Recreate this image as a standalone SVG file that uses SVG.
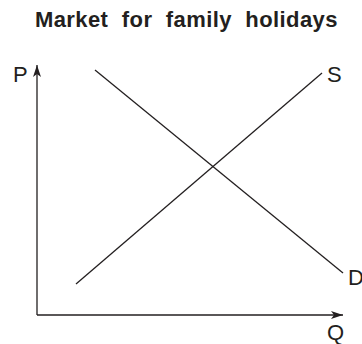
<svg xmlns="http://www.w3.org/2000/svg" width="362" height="344" viewBox="0 0 362 344">
<style>
.t{font-family:"Liberation Sans",Arial,sans-serif;fill:#231f20}
.title{font-size:22px;font-weight:bold;letter-spacing:0.4px;word-spacing:7px}
.lbl{font-size:22px}
.ln{stroke:#231f20;stroke-width:1.3;fill:none}
</style>
<defs>
<marker id="ah" viewBox="0 0 12 10" refX="12" refY="5" markerWidth="12" markerHeight="10" markerUnits="userSpaceOnUse" orient="auto">
<path d="M0,1 L12,5 L0,9 L3,5 Z" fill="#231f20"/>
</marker>
</defs>
<rect width="362" height="344" fill="#fff"/>
<text class="t title" x="35" y="27">Market for family holidays</text>
<g id="axes">
<path id="y-axis" class="ln" d="M37,315 L37,65" marker-end="url(#ah)"/>
<path id="x-axis" class="ln" d="M37,315 L343,315" marker-end="url(#ah)"/>
</g>
<g id="connectors">
<line id="supply" class="ln" x1="76" y1="284" x2="322" y2="73"/>
<line id="demand" class="ln" x1="95" y1="70" x2="343" y2="273"/>
</g>
<g id="label-P"><text class="t lbl" x="13" y="82">P</text></g>
<g id="label-S"><text class="t lbl" x="327" y="82">S</text></g>
<g id="label-D"><text class="t lbl" x="348" y="285">D</text></g>
<g id="label-Q"><text class="t lbl" x="327" y="340">Q</text></g>
</svg>
